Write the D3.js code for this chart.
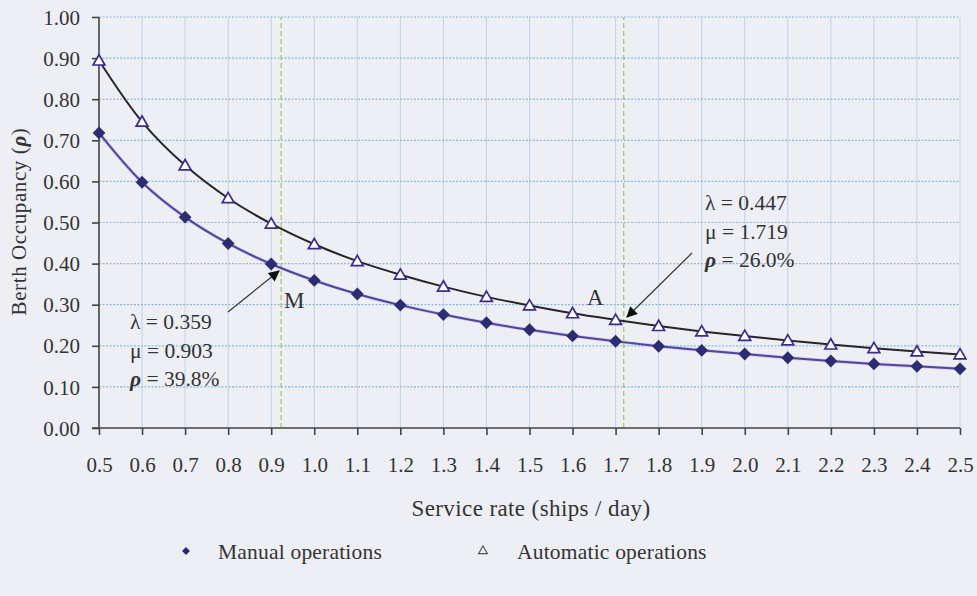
<!DOCTYPE html>
<html>
<head>
<meta charset="utf-8">
<script src="https://cdn.jsdelivr.net/npm/d3@7"></script>
<style>
  body { margin: 0; background: #edeff5; }
  svg { display: block; font-family: "Liberation Serif", "Times New Roman", serif; }
</style>
</head>
<body>
<script>
// service rate (ships / day)
const serviceRates = [0.5, 0.6, 0.7, 0.8, 0.9, 1.0, 1.1, 1.2, 1.3, 1.4, 1.5, 1.6, 1.7, 1.8, 1.9, 2.0, 2.1, 2.2, 2.3, 2.4, 2.5]
const manualOcc = [0.718, 0.598, 0.513, 0.449, 0.399, 0.359, 0.326, 0.299, 0.276, 0.256, 0.239, 0.224, 0.211, 0.199, 0.189, 0.180, 0.171, 0.163, 0.156, 0.150, 0.144]
const autoOcc = [0.894, 0.745, 0.639, 0.559, 0.497, 0.447, 0.406, 0.373, 0.344, 0.319, 0.298, 0.279, 0.263, 0.248, 0.235, 0.224, 0.213, 0.203, 0.194, 0.186, 0.179]
const yTicks = [0, 0.1, 0.2, 0.3, 0.4, 0.5, 0.6, 0.7, 0.8, 0.9, 1.0]
const seriesNames = ["Manual operations", "Automatic operations"]
// vertical marker lines (M and A)
const markers = [
    { label: "M", x: 0.923, lines: [["λ", " = 0.359"], ["μ", " = 0.903"], ["ρ", " = 39.8%"]] },
    { label: "A", x: 1.719, lines: [["λ", " = 0.447"], ["μ", " = 1.719"], ["ρ", " = 26.0%"]] }
]

const width = 977, height = 596
const margin = { left: 99, right: 17, top: 17, bottom: 168 }
const ink = "#333"

const svg = d3.select("body").append("svg")
    .attr("width", width).attr("height", height)

svg.append("defs").append("marker")
    .attr("id", "head")
    .attr("viewBox", "0 0 10 10")
    .attr("refX", 9).attr("refY", 5)
    .attr("markerWidth", 13).attr("markerHeight", 11)
    .attr("markerUnits", "userSpaceOnUse")
    .attr("orient", "auto")
    .append("path").attr("d", "M0,0 L10,5 L0,10 z").attr("fill", "#111")

const x = d3.scaleLinear().domain([0.5, 2.5]).range([margin.left, width - margin.right])
const y = d3.scaleLinear().domain([0, 1]).range([height - margin.bottom, margin.top])

// grid
svg.append("g").selectAll("line")
    .data(serviceRates.slice(1))
    .join("line")
    .attr("x1", d => x(d)).attr("x2", d => x(d))
    .attr("y1", y(0)).attr("y2", y(1))
    .attr("stroke", "#bcd5ec").attr("stroke-width", 1)

svg.append("g").selectAll("line")
    .data(yTicks.slice(1))
    .join("line")
    .attr("x1", x(0.5)).attr("x2", x(2.5))
    .attr("y1", d => y(d)).attr("y2", d => y(d))
    .attr("stroke", "#8fb8e0").attr("stroke-width", 1.2)
    .attr("stroke-dasharray", "2,1.5")

// marker lines
svg.append("g").selectAll("line")
    .data(markers)
    .join("line")
    .attr("x1", d => x(d.x)).attr("x2", d => x(d.x))
    .attr("y1", y(0)).attr("y2", y(1))
    .attr("stroke", "#9fc24a").attr("stroke-width", 1.1)
    .attr("stroke-dasharray", "5,3")

// axes
let yAxis = svg.append("g")
    .attr("transform", `translate(${x(0.5)},0)`)
    .call(d3.axisLeft(y).tickValues(yTicks).tickFormat(d3.format(".2f")).tickSize(7).tickPadding(12))
let xAxis = svg.append("g")
    .attr("transform", `translate(0,${y(0)})`)
    .call(d3.axisBottom(x).tickValues(serviceRates).tickFormat(d3.format(".1f")).tickSize(7).tickPadding(22))
yAxis.select(".domain").attr("d", `M0,${y(1)}H0V${y(0)}`)
xAxis.select(".domain").attr("d", `M${x(0.5) - 7},0H${x(2.5)}`)
;[xAxis, yAxis].forEach(a => {
    a.attr("font-family", null)
    a.selectAll(".domain, line").attr("stroke", "#444").attr("stroke-width", 1.6)
    a.selectAll("text").attr("font-size", 21).attr("fill", ink)
})
yAxis.selectAll("text").attr("dy", "0.34em")

// lines
const line = d3.line().curve(d3.curveCatmullRom.alpha(0.5))
    .x(d => x(d[0])).y(d => y(d[1]))
const manualPts = serviceRates.map((s, i) => [s, manualOcc[i]])
const autoPts = serviceRates.map((s, i) => [s, autoOcc[i]])

svg.append("path").datum(manualPts).attr("d", line)
    .attr("fill", "none").attr("stroke", "#c477b8").attr("stroke-width", 3.4).attr("opacity", 0.35)
svg.append("path").datum(manualPts).attr("d", line)
    .attr("fill", "none").attr("stroke", "#4848a6").attr("stroke-width", 2)
svg.append("path").datum(autoPts).attr("d", line)
    .attr("fill", "none").attr("stroke", "#262626").attr("stroke-width", 2)

const diamond = d3.symbol().type(d3.symbolDiamond2).size(105)
const triangle = d3.symbol().type(d3.symbolTriangle2).size(100)

svg.append("g").selectAll("path")
    .data(manualPts).join("path")
    .attr("transform", d => `translate(${x(d[0])},${y(d[1])})`)
    .attr("d", diamond)
    .attr("fill", "#2c2c72")

svg.append("g").selectAll("path")
    .data(autoPts).join("path")
    .attr("transform", d => `translate(${x(d[0])},${y(d[1]) + 1})`)
    .attr("d", triangle)
    .attr("fill", "#fff").attr("stroke", "#3b2a92").attr("stroke-width", 1.7)

// annotations
const annoPos = [
    { tx: 130, ty: 322, lx: 284, ly: 308, ax1: 228, ay1: 312, ax2: 279, ay2: 271 },
    { tx: 705, ty: 203, lx: 587, ly: 305, ax1: 692, ay1: 253, ax2: 627, ay2: 317 }
]
markers.forEach((m, i) => {
    let p = annoPos[i]
    let t = svg.append("text").attr("x", p.tx).attr("y", p.ty + 7)
        .attr("font-size", 21.5).attr("fill", ink)
    m.lines.forEach((l, j) => {
        let sym = l[0] == "ρ"
        t.append("tspan").attr("x", p.tx).attr("dy", j == 0 ? 0 : 28.5)
            .attr("font-style", sym ? "italic" : null)
            .attr("font-weight", sym ? "bold" : null)
            .text(l[0])
        t.append("tspan").text(l[1])
    })
    svg.append("text").attr("x", p.lx).attr("y", p.ly)
        .attr("font-size", 23).attr("fill", ink).text(m.label)
    svg.append("line")
        .attr("x1", p.ax1).attr("y1", p.ay1).attr("x2", p.ax2).attr("y2", p.ay2)
        .attr("stroke", ink).attr("stroke-width", 1.2)
        .attr("marker-end", "url(#head)")
})

// axis titles
svg.append("text")
    .attr("transform", `translate(26,${(y(0) + y(1)) / 2 - 1}) rotate(-90)`)
    .attr("text-anchor", "middle").attr("font-size", 21).attr("letter-spacing", 0.6).attr("fill", ink)
    .html('Berth Occupancy (<tspan font-style="italic" font-weight="bold">ρ</tspan>)')

svg.append("text")
    .attr("x", 531).attr("y", 516)
    .attr("text-anchor", "middle").attr("font-size", 23).attr("letter-spacing", 0.4).attr("fill", ink)
    .text("Service rate (ships / day)")

// legend
const legendItems = [
    { name: seriesNames[0], type: d3.symbolDiamond2, size: 40, sx: 186, tx: 218, fill: "#2c2c72", stroke: "none" },
    { name: seriesNames[1], type: d3.symbolTriangle2, size: 55, sx: 483, tx: 517, fill: "none", stroke: "#555" }
]
let lg = svg.append("g").selectAll("g").data(legendItems).join("g")
lg.append("path")
    .attr("transform", d => `translate(${d.sx},551)`)
    .attr("d", d => d3.symbol().type(d.type).size(d.size)())
    .attr("fill", d => d.fill).attr("stroke", d => d.stroke).attr("stroke-width", 1.2)
lg.append("text")
    .attr("x", d => d.tx).attr("y", 559)
    .attr("font-size", 21.5).attr("letter-spacing", 0.2).attr("fill", ink)
    .text(d => d.name)
</script>
</body>
</html>
